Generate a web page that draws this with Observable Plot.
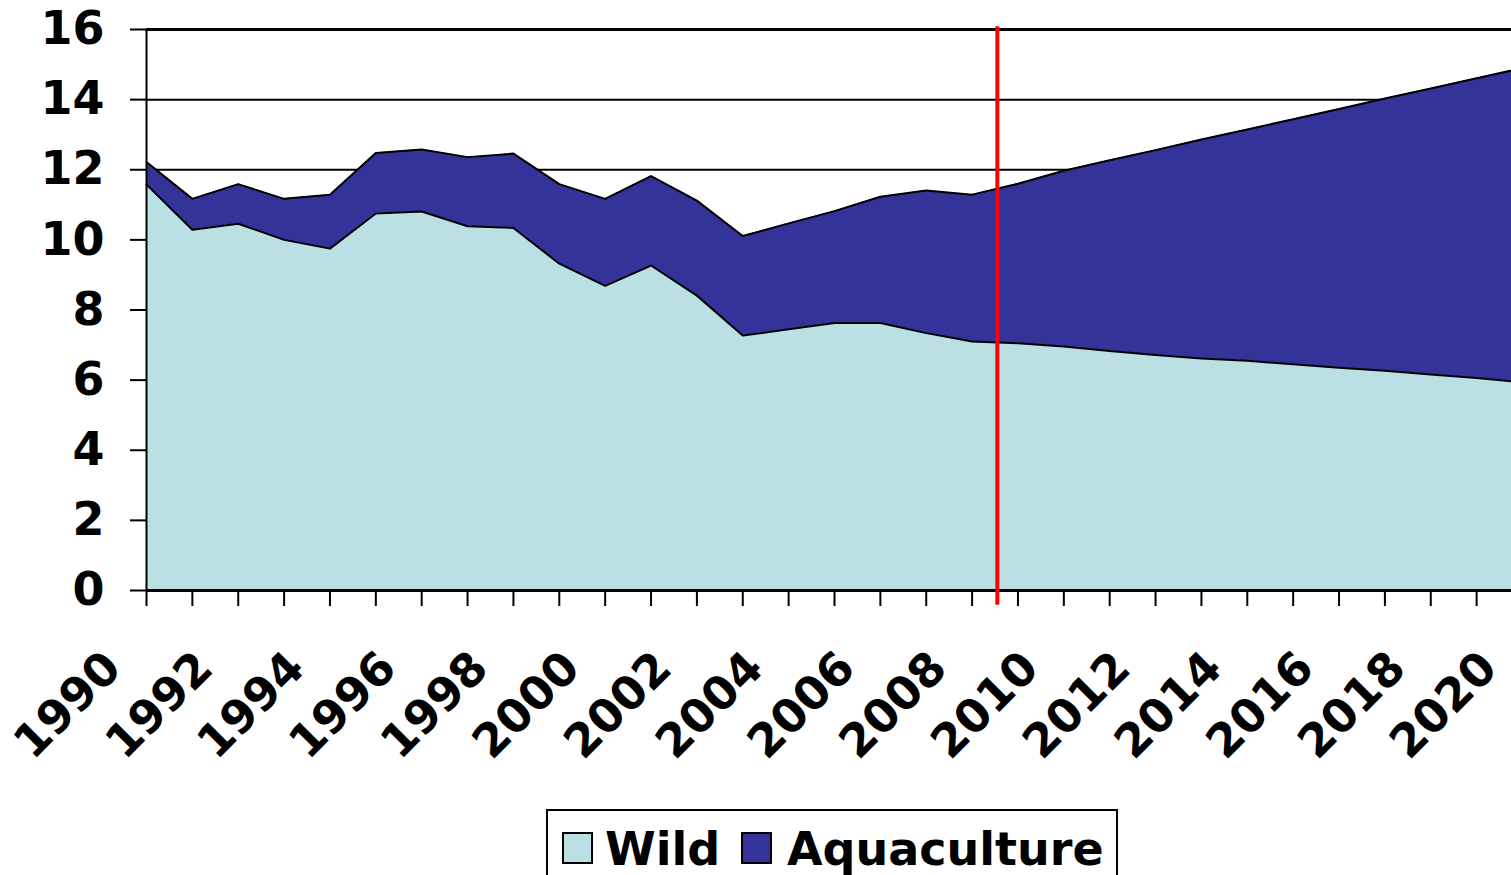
<!DOCTYPE html>
<html>
<head>
<meta charset="utf-8">
<script src="https://cdn.jsdelivr.net/npm/d3@7"></script>
<script src="https://cdn.jsdelivr.net/npm/@observablehq/plot@0.6"></script>
<style>
  html, body { margin: 0; padding: 0; background: #fff; overflow: hidden; width: 1511px; height: 875px; }
  #chart svg { max-width: none !important; display: block; }
  #legend { position: absolute; left: 546px; top: 809px; width: 568px; height: 80px; border: 2px solid #000; background: #fff;
            font-family: "DejaVu Sans", Verdana, sans-serif; font-weight: bold; font-size: 46px; line-height: 46px; }
  .sw { position: absolute; top: 21px; width: 27px; height: 28px; border: 2px solid #000; }
  .lbl { position: absolute; top: 15px; white-space: nowrap; color: #000; }
</style>
</head>
<body>
<div id="chart"></div>
<div id="legend">
  <div class="sw" style="left:14px;background:#BAE0E3"></div>
  <div class="lbl" style="left:57px">Wild</div>
  <div class="sw" style="left:193px;background:#333399"></div>
  <div class="lbl" style="left:239px">Aquaculture</div>
</div>
<script>
const years = [1990,1991,1992,1993,1994,1995,1996,1997,1998,1999,2000,2001,2002,2003,2004,2005,
               2006,2007,2008,2009,2010,2011,2012,2013,2014,2015,2016,2017,2018,2019,2020];
const wild = [11.58,10.29,10.46,10.00,9.75,10.75,10.81,10.39,10.34,9.32,8.69,9.27,8.41,7.27,7.45,7.63,
              7.63,7.34,7.10,7.05,6.96,6.83,6.72,6.62,6.55,6.45,6.35,6.27,6.16,6.06,5.94];
const aquaculture = [0.64,0.88,1.13,1.17,1.54,1.73,1.77,1.97,2.12,2.27,2.48,2.55,2.71,2.84,3.02,3.19,
                     3.60,4.07,4.19,4.55,5.01,5.44,5.84,6.24,6.60,6.99,7.38,7.76,8.16,8.55,8.96];
const seriesNames = ["Wild", "Aquaculture"];
const seriesColors = ["#BAE0E3", "#333399"];
const yTicks = [0,2,4,6,8,10,12,14,16];
const xLabelYears = [1990,1992,1994,1996,1998,2000,2002,2004,2006,2008,2010,2012,2014,2016,2018,2020];
const forecastStart = 2008.55;

const rows = years.flatMap((yr, i) => [
  {year: yr, type: "Wild", value: wild[i]},
  {year: yr, type: "Aquaculture", value: aquaculture[i]}
]);

const font = "DejaVu Sans, Verdana, sans-serif";

const chart = Plot.plot({
  width: 1530,
  height: 800,
  marginLeft: 146,
  marginRight: 8,
  marginTop: 29,
  marginBottom: 210,
  style: {fontFamily: font, fontWeight: "bold", background: "#fff"},
  x: {domain: [1990, 2020]},
  y: {domain: [0, 16]},
  color: {domain: seriesNames, range: seriesColors},
  marks: [
    Plot.gridY(yTicks, {stroke: "#000", strokeOpacity: 1, strokeWidth: 2}),
    Plot.ruleY([16], {stroke: "#000", strokeWidth: 3}),
    Plot.areaY(rows, {x: "year", y: "value", fill: "type", order: seriesNames}),
    Plot.lineY(rows, Plot.stackY2({x: "year", y: "value", z: "type", order: seriesNames, stroke: "#000", strokeWidth: 2})),
    Plot.ruleY([0], {stroke: "#000", strokeWidth: 3}),
    Plot.ruleX([1990], {y1: 0, y2: 16, stroke: "#000", strokeWidth: 2}),
    Plot.axisY({ticks: yTicks, tickSize: 16, tickPadding: 26, fontSize: 46, fontWeight: "bold", fontFamily: font,
                stroke: "#000", strokeWidth: 2, tickFormat: d => String(d), label: null}),
    Plot.axisX({ticks: years, tickSize: 16, tickFormat: () => "", stroke: "#000", strokeWidth: 2, label: null}),
    Plot.axisX({ticks: xLabelYears, tickSize: 0, tickPadding: 80, tickRotate: -45, dx: -23,
                textAnchor: "end", lineAnchor: "bottom",
                fontSize: 46, fontWeight: "bold", fontFamily: font, fill: "#000",
                tickFormat: d => String(d), label: null}),
    Plot.ruleX([forecastStart], {y1: 16.08, y2: -0.42, stroke: "#FF0000", strokeWidth: 4})
  ]
});
document.getElementById("chart").appendChild(chart);
</script>
</body>
</html>
